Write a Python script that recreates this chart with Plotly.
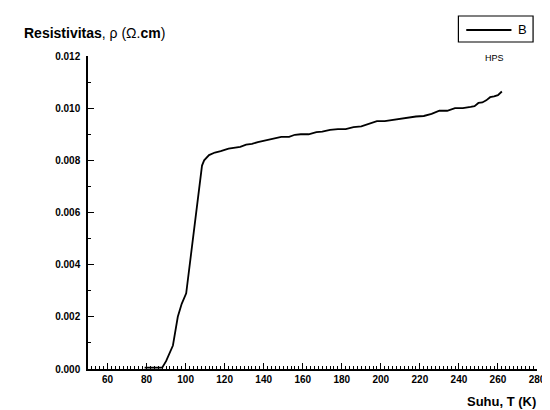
import plotly.graph_objects as go

# ---- data ----
suhu_T = [79, 84, 88, 90, 93.5, 96, 98, 100.3, 102.8, 105.4, 108.4, 109.5, 112, 115,
          118, 122, 125.5, 128, 131, 134, 137, 140, 143, 146, 149, 153, 156, 159,
          163, 167, 170, 174, 178, 182, 186, 190, 194, 198, 202, 206, 210, 214, 218,
          222, 226, 230, 234, 238, 242, 246, 248, 250, 252, 254, 256, 258, 260, 262]
resistivitas = [0.00005, 0.00005, 0.00005, 0.0003, 0.0009, 0.0020, 0.0025, 0.0029,
                0.0044, 0.0058, 0.0078, 0.0080, 0.0082, 0.0083, 0.00835, 0.00845,
                0.0085, 0.00852, 0.0086, 0.00863, 0.0087, 0.00875, 0.00878, 0.00885,
                0.0089, 0.0089, 0.00898, 0.0090, 0.0090, 0.00908, 0.0091, 0.00917,
                0.0092, 0.0092, 0.00927, 0.0093, 0.0094, 0.0095, 0.0095, 0.00955,
                0.0096, 0.00965, 0.00968, 0.0097, 0.00978, 0.0099, 0.0099, 0.0100,
                0.0100, 0.01005, 0.01008, 0.0102, 0.01022, 0.0103, 0.01042, 0.01045,
                0.0105, 0.01064]
x_ticks = [60, 80, 100, 120, 140, 160, 180, 200, 220, 240, 260, 280]
y_ticks = [0.000, 0.002, 0.004, 0.006, 0.008, 0.010, 0.012]
series_name = "B"
sample_label = "HPS"

FONT = "Liberation Sans, Arial, sans-serif"

W, H = 550, 410
L, R, T, B = 80, 13, 48, 49
pw, ph = W - L - R, H - T - B


def px_x(px):
    return (px - L) / pw


def px_y(py):
    return (H - B - py) / ph


fig = go.Figure()
fig.add_trace(go.Scatter(
    x=suhu_T, y=resistivitas, mode="lines", name=series_name,
    line=dict(color="black", width=1.8), showlegend=False,
))

axis_common = dict(
    showgrid=False, zeroline=False, showline=True, linecolor="black", linewidth=1.5,
    ticks="inside", tickcolor="black", tickwidth=1.3, ticklen=6,
    tickfont=dict(family=FONT, size=10, color="black", weight="bold"),
)

fig.update_xaxes(
    range=[50, 280], tickvals=x_ticks, ticktext=[str(v) for v in x_ticks],
    minor=dict(dtick=2, tick0=50, ticks="inside", ticklen=3, tickcolor="black", tickwidth=1),
    **axis_common,
)
fig.update_yaxes(
    range=[0, 0.012], tickvals=y_ticks, ticktext=[f"{v:.3f}" for v in y_ticks],
    minor=dict(dtick=0.001, tick0=0, ticks="inside", ticklen=3, tickcolor="black", tickwidth=1),
    ticklabelstandoff=4,
    **axis_common,
)

annotations = [
    dict(text="<b>Resistivitas</b>, ρ (Ω.<b>cm</b>)", x=px_x(13), y=px_y(25),
         xanchor="left", yanchor="middle", showarrow=False,
         font=dict(family=FONT, size=14, color="black")),
    dict(text="<b>Suhu, T (K)</b>", x=px_x(538), y=px_y(393),
         xanchor="right", yanchor="middle", showarrow=False,
         font=dict(family=FONT, size=13, color="black")),
    dict(text=series_name, x=px_x(516), y=px_y(21),
         xanchor="left", yanchor="middle", showarrow=False,
         font=dict(family=FONT, size=13, color="black")),
    dict(text=sample_label, x=px_x(494), y=px_y(50),
         xanchor="center", yanchor="middle", showarrow=False,
         font=dict(family=FONT, size=9, color="black")),
]
for a in annotations:
    a.update(xref="paper", yref="paper")

shapes = [
    dict(type="rect", xref="paper", yref="paper",
         x0=px_x(457), x1=px_x(533), y0=px_y(34), y1=px_y(8),
         line=dict(color="black", width=1.2), fillcolor="white"),
    dict(type="line", xref="paper", yref="paper",
         x0=px_x(465), x1=px_x(511), y0=px_y(22), y1=px_y(22),
         line=dict(color="black", width=1.8)),
]

fig.update_layout(
    width=W, height=H, margin=dict(l=L, r=R, t=T, b=B),
    paper_bgcolor="white", plot_bgcolor="white",
    annotations=annotations, shapes=shapes, showlegend=False,
)

fig.write_html("out.html")
